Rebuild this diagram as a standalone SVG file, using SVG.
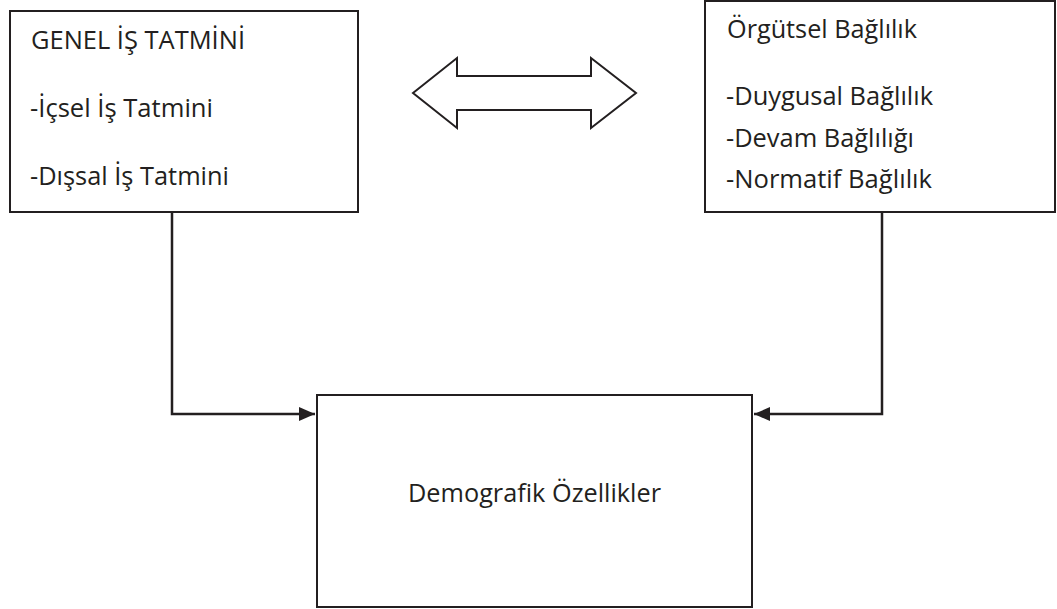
<svg xmlns="http://www.w3.org/2000/svg" width="1057" height="609" viewBox="0 0 1057 609">
  <style>
    .box { fill: #ffffff; stroke: #231f20; stroke-width: 2; }
    .t { font-family: "Open Sans", "Noto Sans", "DejaVu Sans", sans-serif; font-size: 25px; fill: #231f20; }
    .conn { fill: none; stroke: #231f20; stroke-width: 2.5; }
  </style>
  <defs>
    <marker id="ah" viewBox="0 0 16 14" refX="16" refY="7" markerWidth="16" markerHeight="14" markerUnits="userSpaceOnUse" orient="auto">
      <path d="M0,0 L16,7 L0,14 Z" fill="#231f20"/>
    </marker>
  </defs>
  <rect width="1057" height="609" fill="#ffffff"/>
  <g id="genel-is-tatmini">
    <rect class="box" x="10" y="11" width="348" height="201"/>
    <text class="t" x="31" y="49" textLength="214" lengthAdjust="spacingAndGlyphs">GENEL İŞ TATMİNİ</text>
    <text class="t" x="30" y="117" textLength="183" lengthAdjust="spacingAndGlyphs">-İçsel İş Tatmini</text>
    <text class="t" x="30" y="185" textLength="199" lengthAdjust="spacingAndGlyphs">-Dışsal İş Tatmini</text>
  </g>
  <g id="orgutsel-baglilik">
    <rect class="box" x="705" y="1" width="350" height="211"/>
    <text class="t" x="727" y="38" textLength="190" lengthAdjust="spacingAndGlyphs">Örgütsel Bağlılık</text>
    <text class="t" x="726" y="105" textLength="207" lengthAdjust="spacingAndGlyphs">-Duygusal Bağlılık</text>
    <text class="t" x="726" y="147" textLength="188" lengthAdjust="spacingAndGlyphs">-Devam Bağlılığı</text>
    <text class="t" x="726" y="188" textLength="206" lengthAdjust="spacingAndGlyphs">-Normatif Bağlılık</text>
  </g>
  <g id="demografik-ozellikler">
    <rect class="box" x="317" y="395" width="435" height="212"/>
    <text class="t" x="534.5" y="502" text-anchor="middle" textLength="253" lengthAdjust="spacingAndGlyphs">Demografik Özellikler</text>
  </g>
  <g id="connectors">
    <polygon points="413,93 457,58 457,76 591,76 591,58 636,93 591,128 591,110 457,110 457,128" fill="#ffffff" stroke="#231f20" stroke-width="2"/>
    <polyline class="conn" points="172,212 172,414 315,414" marker-end="url(#ah)"/>
    <polyline class="conn" points="882,212 882,414 754,414" marker-end="url(#ah)"/>
  </g>
</svg>
